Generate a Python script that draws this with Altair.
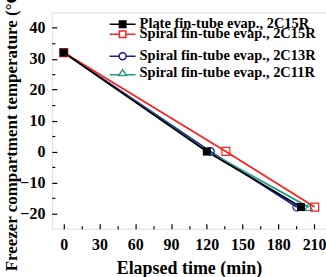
import altair as alt
import pandas as pd

series_names = [
    "Plate fin-tube evap., 2C15R",
    "Spiral fin-tube evap., 2C15R",
    "Spiral fin-tube evap., 2C13R",
    "Spiral fin-tube evap., 2C11R",
]
times = [
    [0, 120, 199],
    [0, 136, 210.5],
    [0, 123, 195.5],
    [0, 121, 205.5],
]
temps = [
    [32, 0, -18],
    [32, 0, -18],
    [32, 0, -18],
    [32, 0, -18],
]
colors = ["#000000", "#ff2020", "#1a1a9a", "#2a9a8a"]
shapes = ["square", "square", "circle", "triangle-up"]
filled = [True, False, False, False]

x_major = [0, 30, 60, 90, 120, 150, 180, 210]
x_ticks = list(range(0, 211, 15))
y_major = [-20, -10, 0, 10, 20, 30, 40]
y_ticks = list(range(-20, 41, 5))

W, H = 275, 217
FONT = "Liberation Serif"

legend_paths = [
    "M-1,0H-0.25M0.25,0H1M-0.25,-0.25H0.25V0.25H-0.25Z",
    "M-1,0H-0.25M0.25,0H1M-0.25,-0.25H0.25V0.25H-0.25Z",
    "M-1,0H-0.27M0.27,0H1M-0.27,0A0.27,0.27 0 1,1 0.27,0A0.27,0.27 0 1,1 -0.27,0Z",
    "M-1,0.12H-0.2M0.2,0.12H1M0,-0.28L0.3,0.18L-0.3,0.18Z",
]
legend_y = [-2, 8, 30, 47]

xscale = alt.Scale(domain=[-10, 220], nice=False, zero=False)
yscale = alt.Scale(domain=[-25, 45], nice=False, zero=False)

layers = []
for i, name in enumerate(series_names):
    df = pd.DataFrame({"t": times[i], "T": temps[i], "s": [name] * len(times[i])})
    leg = alt.Legend(
        orient="none",
        legendX=57,
        legendY=legend_y[i],
        title=None,
        symbolType=legend_paths[i],
        symbolSize=676,
        symbolStrokeWidth=1.5,
        symbolStrokeColor=colors[i],
        symbolFillColor=colors[i] if filled[i] else "#ffffff",
        symbolOpacity=1,
        labelFont=FONT,
        labelFontWeight="bold",
        labelFontSize=14.5,
        labelColor="#000000",
        labelOffset=3,
        padding=0,
        labelLimit=300,
    )
    cscale = alt.Scale(domain=[name], range=[colors[i]])
    line = alt.Chart(df).mark_line(strokeWidth=1.8).encode(
        x=alt.X("t:Q", scale=xscale, axis=None),
        y=alt.Y("T:Q", scale=yscale, axis=None),
        color=alt.Color("s:N", scale=cscale, legend=None),
    )
    pts = alt.Chart(df).mark_point(
        shape=shapes[i], filled=filled[i], size=64 if shapes[i] == "square" else 60,
        strokeWidth=1.2, opacity=1,
    ).encode(
        x=alt.X("t:Q", scale=xscale, axis=None),
        y=alt.Y("T:Q", scale=yscale, axis=None),
        color=alt.Color("s:N", scale=cscale, legend=leg),
    )
    layers.append((line, pts))

# axis layers
ax_df = pd.DataFrame({"t": [0], "T": [0]})
label_axes = alt.Chart(ax_df).mark_point(opacity=0).encode(
    x=alt.X("t:Q", scale=xscale, title="Elapsed time (min)",
            axis=alt.Axis(orient="bottom", values=x_major, tickSize=0, domain=False, grid=False,
                          labelFont=FONT, labelFontWeight="bold", labelFontSize=16, labelColor="#000",
                          labelPadding=8, titleFont=FONT, titleFontWeight="bold", titleFontSize=18,
                          titleColor="#000", titlePadding=7, labelFlush=False)),
    y=alt.Y("T:Q", scale=yscale, title="Freezer compartment temperature (°C)",
            axis=alt.Axis(orient="left", values=y_major, tickSize=0, domain=False, grid=False,
                          labelFont=FONT, labelFontWeight="bold", labelFontSize=16, labelColor="#000",
                          labelPadding=7, titleFont=FONT, titleFontWeight="bold", titleFontSize=17,
                          titleColor="#000", titleAngle=270, titleX=-35, titleY=116,
                          titleBaseline="alphabetic", titleAlign="center", labelFlush=False)),
)
tick_axes = alt.Chart(ax_df).mark_point(opacity=0).encode(
    x=alt.X("t:Q", scale=xscale, title=None,
            axis=alt.Axis(orient="top", offset=-H, values=x_ticks, labels=False, domain=False, grid=False,
                          tickColor="#000", tickWidth=1.2,
                          tickSize={"condition": {"test": "datum.value % 30 === 0", "value": 5}, "value": 3})),
    y=alt.Y("T:Q", scale=yscale, title=None,
            axis=alt.Axis(orient="right", offset=-W, values=y_ticks, labels=False, domain=False, grid=False,
                          tickColor="#000", tickWidth=1.2,
                          tickSize={"condition": {"test": "datum.value % 10 === 0", "value": 5}, "value": 3})),
)

order = [2, 3, 1, 0]
all_layers = [label_axes, tick_axes]
for i in order:
    all_layers.append(layers[i][0])
for i in order:
    all_layers.append(layers[i][1])

chart = alt.layer(*all_layers).resolve_scale(color="independent").resolve_axis(
    x="independent", y="independent"
).properties(
    width=W, height=H,
    autosize=alt.AutoSizeParams(type="none"),
    padding={"left": 52, "top": 12, "right": 0, "bottom": 48},
).configure_view(stroke="#000", strokeWidth=1.6).configure(background="white")

chart.save("out.html", embed_options={"renderer": "svg", "actions": False})
